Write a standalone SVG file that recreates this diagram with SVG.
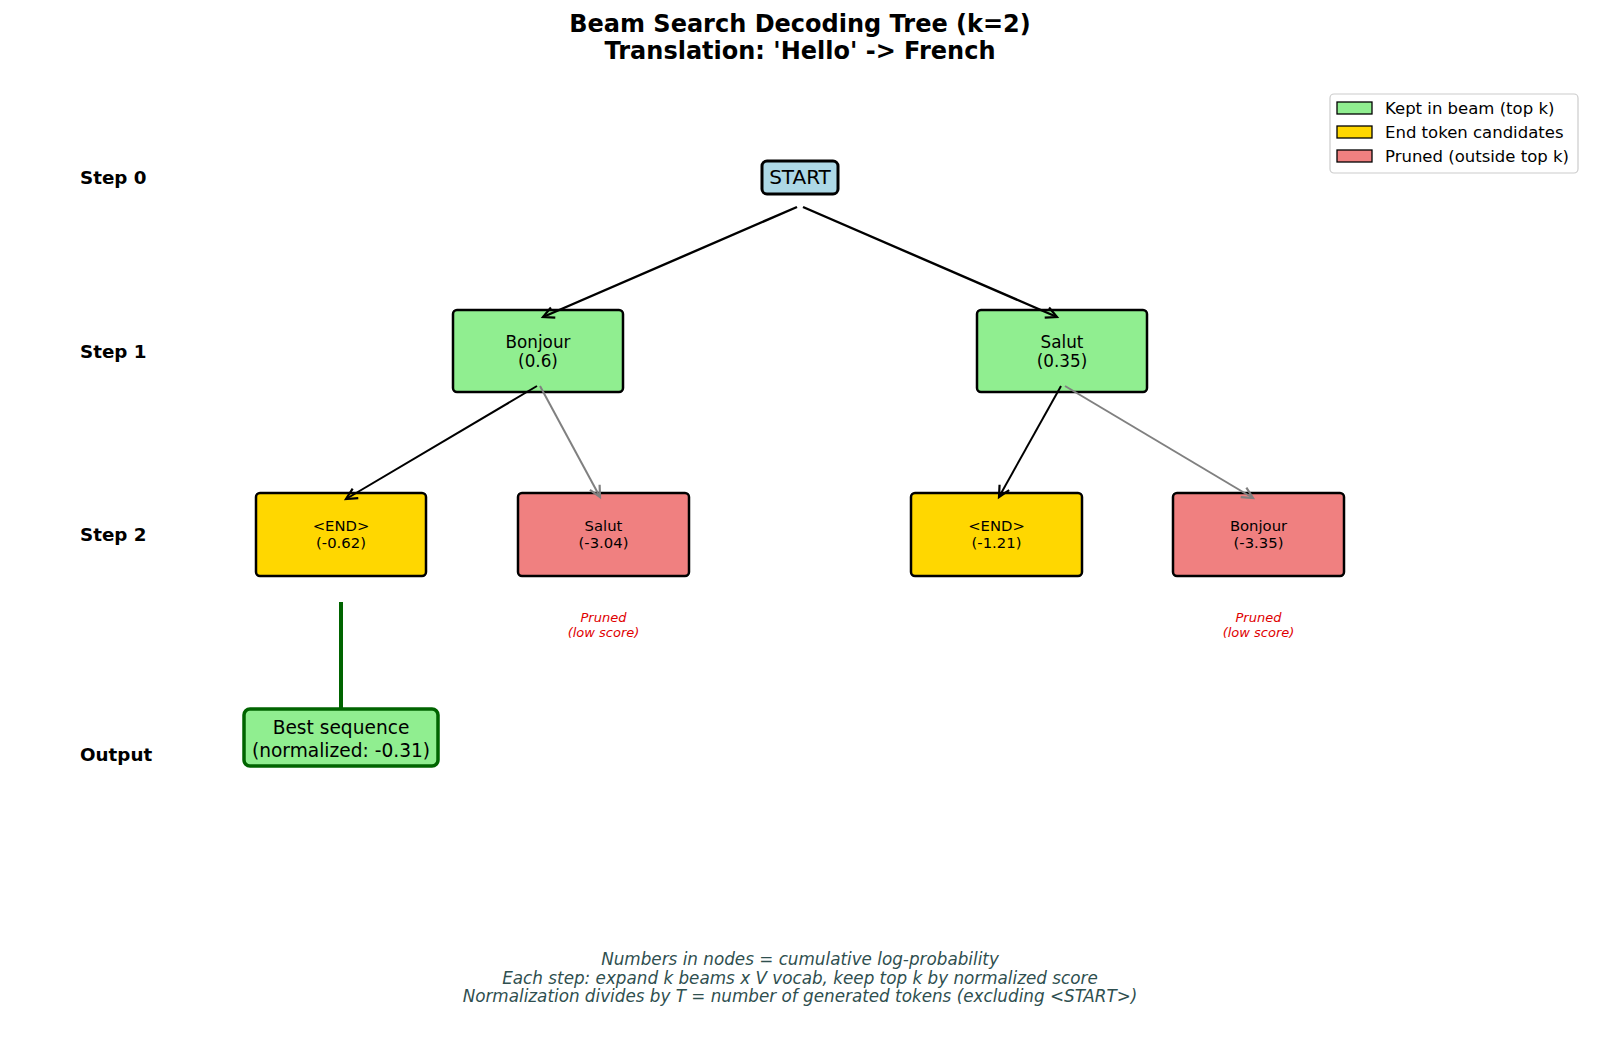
<svg xmlns="http://www.w3.org/2000/svg" width="1600" height="1060" viewBox="0 0 1600 1060">
<style>
text{font-family:"DejaVu Sans","Liberation Sans",sans-serif;fill:#000}
.title{font-size:24px;font-weight:bold;text-anchor:middle}
.step{font-size:18.3px;font-weight:bold;dominant-baseline:central}
.n1{font-size:16.8px;text-anchor:middle;dominant-baseline:central}
.n2{font-size:14.8px;text-anchor:middle;dominant-baseline:central}
.box{stroke:#000;stroke-width:2.5}
.green{fill:#90EE90}
.gold{fill:#FFD700}
.red{fill:#F08080}
.pr{font-size:13px;font-style:italic;fill:#e00000;text-anchor:middle;dominant-baseline:central}
.foot{font-size:16.8px;font-style:italic;fill:#2F4F4F;text-anchor:middle;dominant-baseline:central}
.leg{font-size:16.5px;dominant-baseline:central}
.e{fill:none;stroke:#000;stroke-width:2}
.e2{fill:none;stroke:#000;stroke-width:2.4}
.g{fill:none;stroke:#808080;stroke-width:2}
</style>
<defs>
<marker id="ab" markerWidth="16" markerHeight="16" refX="12" refY="7" orient="auto" markerUnits="userSpaceOnUse"><path d="M1,1.5 L12,7 L1,12.5" fill="none" stroke="#000" stroke-width="2.2"/></marker>
<marker id="ag" markerWidth="16" markerHeight="16" refX="12" refY="7" orient="auto" markerUnits="userSpaceOnUse"><path d="M1,1.5 L12,7 L1,12.5" fill="none" stroke="#808080" stroke-width="2.2"/></marker>
</defs>
<rect width="1600" height="1060" fill="#fff"/>
<text class="title" x="800" y="32">Beam Search Decoding Tree (k=2)</text>
<text class="title" x="800" y="59">Translation: 'Hello' -&gt; French</text>
<g id="step-labels">
<text class="step" x="80" y="177">Step 0</text>
<text class="step" x="80" y="351">Step 1</text>
<text class="step" x="80" y="534">Step 2</text>
<text class="step" x="80" y="754">Output</text>
</g>
<g id="node-start">
<rect x="762" y="161" width="76" height="33" rx="5" fill="#ADD8E6" stroke="#000" stroke-width="3"/>
<text x="800" y="177" font-size="20" text-anchor="middle" dominant-baseline="central">START</text>
</g>
<g id="node-bonjour-1">
<rect class="box green" x="453" y="310" width="170" height="82" rx="4"/>
<text class="n1" x="538" y="341.5">Bonjour</text>
<text class="n1" x="538" y="361">(0.6)</text>
</g>
<g id="node-salut-1">
<rect class="box green" x="977" y="310" width="170" height="82" rx="4"/>
<text class="n1" x="1062" y="341.5">Salut</text>
<text class="n1" x="1062" y="361">(0.35)</text>
</g>
<g id="node-end-1">
<rect class="box gold" x="256" y="493" width="170" height="83" rx="4"/>
<text class="n2" x="341" y="525.5">&lt;END&gt;</text>
<text class="n2" x="341" y="542.5">(-0.62)</text>
</g>
<g id="node-salut-2">
<rect class="box red" x="518" y="493" width="171" height="83" rx="4"/>
<text class="n2" x="603.5" y="525.5">Salut</text>
<text class="n2" x="603.5" y="542.5">(-3.04)</text>
<text class="pr" x="603.5" y="617">Pruned</text>
<text class="pr" x="603.5" y="632">(low score)</text>
</g>
<g id="node-end-2">
<rect class="box gold" x="911" y="493" width="171" height="83" rx="4"/>
<text class="n2" x="996.5" y="525.5">&lt;END&gt;</text>
<text class="n2" x="996.5" y="542.5">(-1.21)</text>
</g>
<g id="node-bonjour-2">
<rect class="box red" x="1173" y="493" width="171" height="83" rx="4"/>
<text class="n2" x="1258.5" y="525.5">Bonjour</text>
<text class="n2" x="1258.5" y="542.5">(-3.35)</text>
<text class="pr" x="1258.5" y="617">Pruned</text>
<text class="pr" x="1258.5" y="632">(low score)</text>
</g>
<g id="node-best">
<rect x="244" y="709" width="194" height="57" rx="6" fill="#90EE90" stroke="#006400" stroke-width="3.5"/>
<text x="341" y="727" font-size="18.6" text-anchor="middle" dominant-baseline="central">Best sequence</text>
<text x="341" y="750" font-size="18.6" text-anchor="middle" dominant-baseline="central">(normalized: -0.31)</text>
</g>
<g id="connectors">
<line class="e2" x1="797" y1="207" x2="543" y2="317" marker-end="url(#ab)"/>
<line class="e2" x1="803" y1="207" x2="1057" y2="317" marker-end="url(#ab)"/>
<line class="e" x1="537" y1="386" x2="346" y2="499" marker-end="url(#ab)"/>
<line class="g" x1="540" y1="386" x2="600" y2="497" marker-end="url(#ag)"/>
<line class="e" x1="1061" y1="386" x2="999" y2="497" marker-end="url(#ab)"/>
<line class="g" x1="1065" y1="386" x2="1253" y2="498" marker-end="url(#ag)"/>
<line x1="341" y1="602" x2="341" y2="709" stroke="#006400" stroke-width="4"/>
</g>
<g id="legend">
<rect x="1330" y="94" width="248" height="79" rx="4" fill="#fff" stroke="#cccccc" stroke-width="1.2"/>
<rect x="1337" y="102" width="35" height="12" fill="#90EE90" stroke="#000" stroke-width="1.3"/>
<text class="leg" x="1385" y="108">Kept in beam (top k)</text>
<rect x="1337" y="126" width="35" height="12" fill="#FFD700" stroke="#000" stroke-width="1.3"/>
<text class="leg" x="1385" y="132">End token candidates</text>
<rect x="1337" y="150" width="35" height="12" fill="#F08080" stroke="#000" stroke-width="1.3"/>
<text class="leg" x="1385" y="156">Pruned (outside top k)</text>
</g>
<g id="footer">
<text class="foot" x="800" y="959">Numbers in nodes = cumulative log-probability</text>
<text class="foot" x="800" y="977.5">Each step: expand k beams x V vocab, keep top k by normalized score</text>
<text class="foot" x="800" y="996">Normalization divides by T = number of generated tokens (excluding &lt;START&gt;)</text>
</g>
</svg>
